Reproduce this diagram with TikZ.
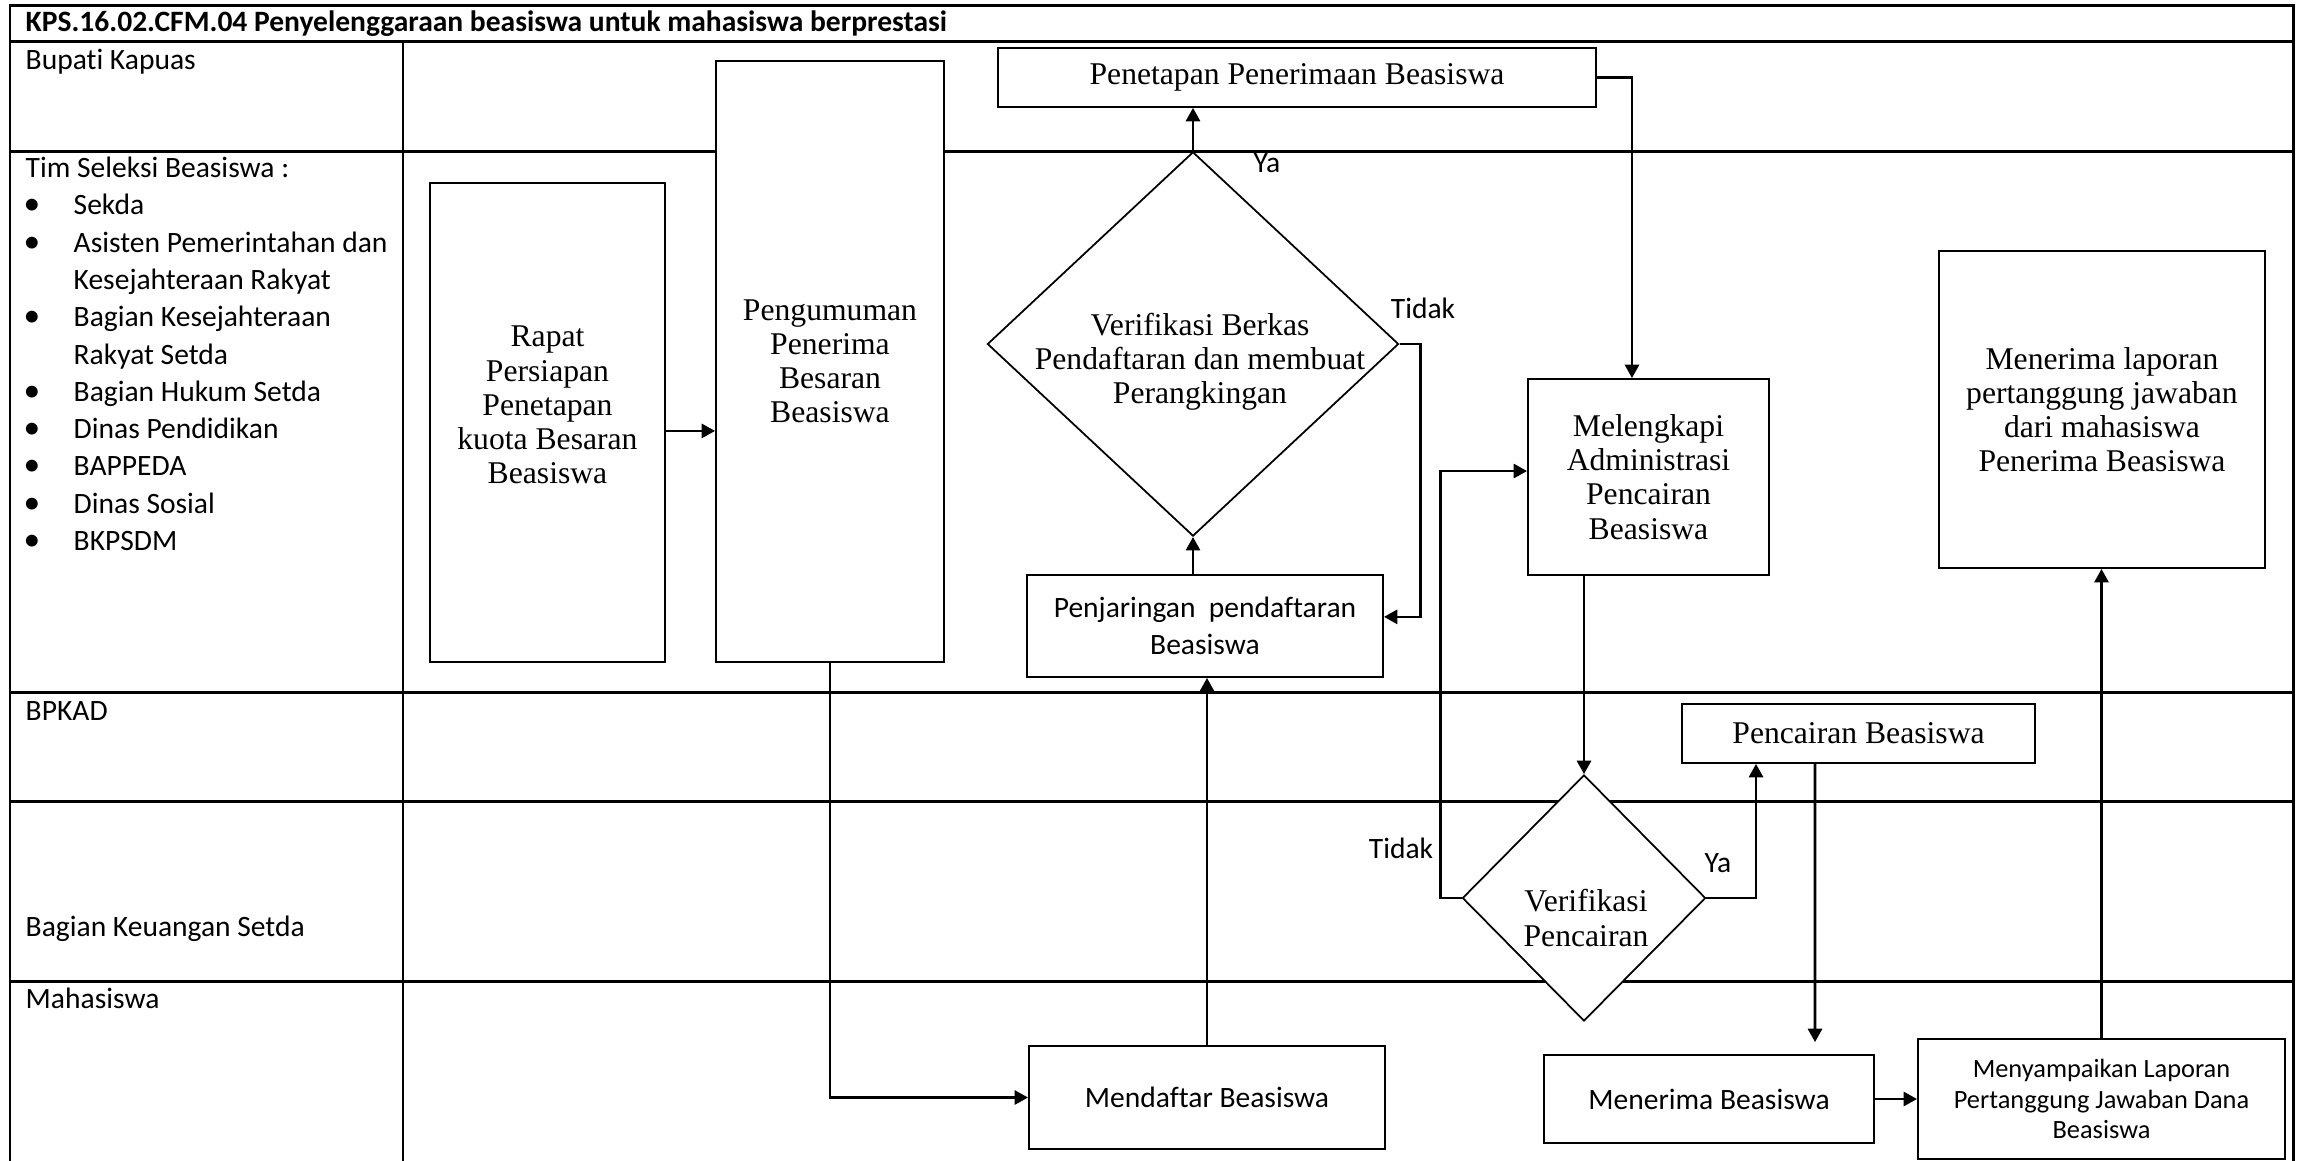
\documentclass[tikz,border=0pt]{standalone}
\usepackage{fontspec}
\setmainfont{Liberation Serif}
\newfontfamily\calib[Ligatures=NoCommon]{Carlito}
\usetikzlibrary{arrows.meta,shapes.geometric,calc}
\begin{document}
\begin{tikzpicture}[x=0.01cm,y=-0.01cm,
  lanes/.style={line width=0.85pt},
  lanetxt/.style={font=\calib\fontsize{8.4}{10.6}\selectfont, inner sep=0, anchor=base west},
  lbl/.style={font=\calib\fontsize{8.4}{10.6}\selectfont, inner sep=0},
  sbox/.style={draw, fill=white, line width=0.5pt, inner sep=0, align=center, font=\fontsize{9}{9.7}\selectfont},
  cbox/.style={draw, fill=white, line width=0.5pt, inner sep=0, align=center, font=\calib\fontsize{8.4}{10.4}\selectfont},
  stxt/.style={inner sep=0, align=center, font=\fontsize{9}{9.7}\selectfont},
  dia/.style={draw, fill=white, diamond, line width=0.5pt, inner sep=0, align=center, font=\fontsize{9}{9.7}\selectfont},
  arr/.style={line width=0.75pt, -{Triangle[length=3.8pt,width=4pt]}}
]
\useasboundingbox (0,0) rectangle (2299,1160);

% swimlane grid
\draw[lanes] (10,1170) -- (10,5) -- (2293,5) -- (2293,1170);
\draw[lanes] (10,41) -- (2293,41);
\draw[lanes] (10,151) -- (2293,151);
\draw[lanes] (10,692) -- (2293,692);
\draw[lanes] (10,801) -- (2293,801);
\draw[lanes] (10,981) -- (2293,981);
\draw[lanes] (403,41) -- (403,1170);

% title and lane labels
\node[lanetxt, font=\calib\bfseries\fontsize{8.4}{10.6}\selectfont] (title) at (25,31) {KPS.16.02.CFM.04 Penyelenggaraan beasiswa untuk mahasiswa berprestasi};
\node[lanetxt] (l1) at (25,69) {Bupati Kapuas};
\node[lanetxt] (l2) at (25,177.5) {Tim Seleksi Beasiswa :};
\node[lanetxt] (l3) at (25,720) {BPKAD};
\node[lanetxt] (l4) at (25,936) {Bagian Keuangan Setda};
\node[lanetxt] (l5) at (25,1008) {Mahasiswa};

\foreach \yy [count=\i] in {214.8,252.1,326.7,401.3,438.6,475.9,513.2,550.5}
  \node[lanetxt, anchor=base, font=\calib\fontsize{9.5}{10.6}\selectfont] (bul\i) at (32,\yy) {\textbullet};
\node[lanetxt] (t1) at (73,214.8) {Sekda};
\node[lanetxt] (t2) at (73,252.1) {Asisten Pemerintahan dan};
\node[lanetxt] (t3) at (73,289.4) {Kesejahteraan Rakyat};
\node[lanetxt] (t4) at (73,326.7) {Bagian Kesejahteraan};
\node[lanetxt] (t5) at (73,364) {Rakyat Setda};
\node[lanetxt] (t6) at (73,401.3) {Bagian Hukum Setda};
\node[lanetxt] (t7) at (73,438.6) {Dinas Pendidikan};
\node[lanetxt] (t8) at (73,475.9) {BAPPEDA};
\node[lanetxt] (t9) at (73,513.2) {Dinas Sosial};
\node[lanetxt] (t10) at (73,550.5) {BKPSDM};

% process boxes
\node[sbox, minimum width=2.35cm, minimum height=4.79cm] (rapat) at (547.5,422.5) {};
\node[stxt] (rapatT) at (547.5,405) {Rapat\\Persiapan\\Penetapan\\kuota Besaran\\Beasiswa};
\node[sbox, minimum width=2.28cm, minimum height=6.01cm] (umum) at (830,361.5) {Pengumuman\\Penerima\\Besaran\\Beasiswa};
\node[sbox, minimum width=5.98cm, minimum height=0.59cm] (penetapan) at (1297,77.5) {Penetapan Penerimaan Beasiswa};
\node[dia, minimum width=4.11cm, minimum height=3.84cm] (verif1) at (1193,344) {};
\node[stxt] (verif1T) at (1200,362) {Verifikasi Berkas\\Pendaftaran dan membuat\\Perangkingan};
\node[cbox, minimum width=3.56cm, minimum height=1.02cm] (penjaringan) at (1205,626) {Penjaringan\ \ pendaftaran\\Beasiswa};
\node[sbox, minimum width=2.41cm, minimum height=1.96cm] (melengkapi) at (1648.5,477) {Melengkapi\\Administrasi\\Pencairan\\Beasiswa};
\node[sbox, minimum width=3.26cm, minimum height=3.17cm] (laporan) at (2102,409.5) {Menerima laporan\\pertanggung jawaban\\dari mahasiswa\\Penerima Beasiswa};
\node[sbox, minimum width=3.53cm, minimum height=0.59cm] (pencairan) at (1858.5,733.5) {Pencairan Beasiswa};
\node[dia, minimum width=2.43cm, minimum height=2.46cm] (verif2) at (1584,898) {};
\node[stxt] (verif2T) at (1586,918) {Verifikasi\\Pencairan};
\node[cbox, minimum width=3.56cm, minimum height=1.03cm] (mendaftar) at (1207,1097.5) {Mendaftar Beasiswa};
\node[cbox, minimum width=3.30cm, minimum height=0.88cm] (menerima) at (1709,1099) {Menerima Beasiswa};
\node[cbox, minimum width=3.67cm, minimum height=1.20cm, font=\calib\fontsize{7.5}{8.6}\selectfont] (menyampaikan) at (2101.5,1099) {Menyampaikan Laporan\\Pertanggung Jawaban Dana\\Beasiswa};

% connectors
\draw[arr] ([yshift=-2.4pt]rapat.east) -- ([yshift=-2.4pt]rapat.east -| umum.west);
\draw[arr] (umum.south) |- (mendaftar.west);
\draw[arr] (mendaftar.north) -- (mendaftar.north |- penjaringan.south);
\draw[arr] (verif1.south |- penjaringan.north) -- (verif1.south);
\draw[arr] (verif1.north) -- (verif1.north |- penetapan.south);
\draw[arr] (verif1.east) -- ++(21,0) |- ([yshift=2.6pt]penjaringan.east);
\draw[arr] (penetapan.east) -| ([xshift=-4.7pt]melengkapi.north);
\draw[arr] (verif2.north |- melengkapi.south) -- (verif2.north);
\draw[arr] (verif2.west) -- ++(-21,0) |- ([yshift=1.7pt]melengkapi.west);
\draw[arr] (verif2.east) -| ($(pencairan.south west)+(75,0)$);
\draw[arr] ($(pencairan.south west)+(134,0)$) -- ($(menerima.north west)+(272,-12)$);
\draw[arr] (menerima.east) -- (menerima.east -| menyampaikan.west);
\draw[arr] (menyampaikan.north) -- (menyampaikan.north |- laporan.south);

% connector labels
\node[lbl] (ya1) at (1267,163) {Ya};
\node[lbl] (tidak1) at (1423,308) {Tidak};
\node[lbl] (tidak2) at (1401,848) {Tidak};
\node[lbl] (ya2) at (1718,863) {Ya};
\end{tikzpicture}
\end{document}
